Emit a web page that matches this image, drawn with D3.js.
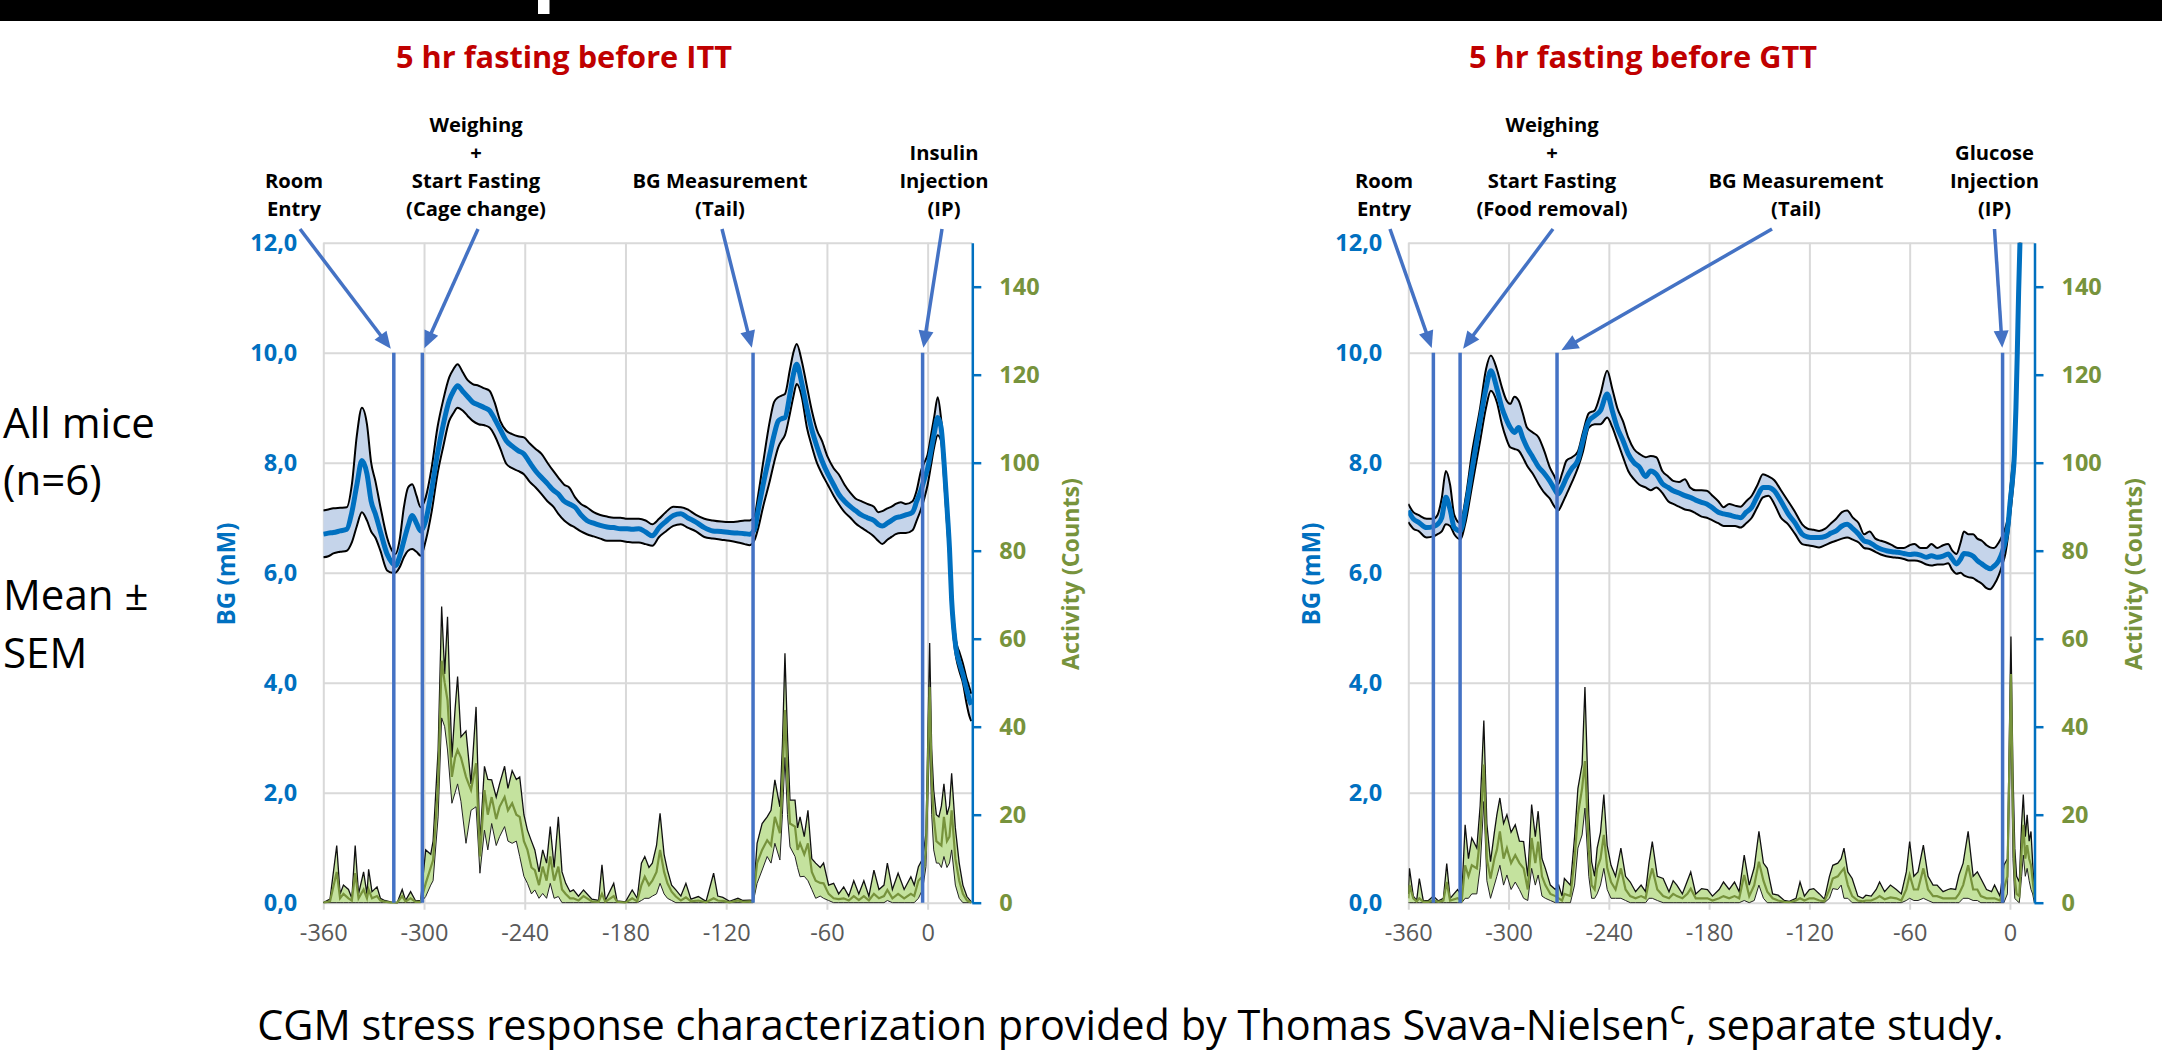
<!DOCTYPE html>
<html>
<head>
<meta charset="utf-8">
<script src="https://cdn.jsdelivr.net/npm/d3@7"></script>
<style>
html,body{margin:0;padding:0;background:#fff;}
svg{display:block;}
</style>
</head>
<body>
<svg id="c" width="2162" height="1053"></svg>
<script>
// ===================== DATA =====================
const xTicks = [-360, -300, -240, -180, -120, -60, 0];
const xTickLabels = ["-360", "-300", "-240", "-180", "-120", "-60", "0"];
const bgTicks = [0, 2, 4, 6, 8, 10, 12];
const bgTickLabels = ["0,0", "2,0", "4,0", "6,0", "8,0", "10,0", "12,0"];
const actTicks = [0, 20, 40, 60, 80, 100, 120, 140];
const actTickLabels = ["0", "20", "40", "60", "80", "100", "120", "140"];

const titles = ["5 hr fasting before ITT", "5 hr fasting before GTT"];
const sideText = ["All mice", "(n=6)", "Mean \u00B1", "SEM"];
const captionMain = "CGM stress response characterization provided by Thomas Svava-Nielsen";
const captionSup = "c";
const captionEnd = ", separate study.";

// ---- ITT: event markers ----
const ittEventTimes = [-318, -301, -104, -3];
const ittEventLabels = [["Room", "Entry"], ["Weighing", "+", "Start Fasting", "(Cage change)"], ["BG Measurement", "(Tail)"], ["Insulin", "Injection", "(IP)"]];
// ---- GTT: event markers ----
const gttEventTimes = [-345, -329, -271, -4.4];
const gttEventLabels = [["Room", "Entry"], ["Weighing", "+", "Start Fasting", "(Food removal)"], ["BG Measurement", "(Tail)"], ["Glucose", "Injection", "(IP)"]];

// ---- ITT: blood glucose (mM), mean and SEM band ----
const ittBgTime = [-360,-357,-354,-350,-346,-343,-340,-337,-334,-331.5,-329,-326,-322,-319,-317,-314.5,-312,-309.5,-307,-304.5,-302,-299,-295.5,-292,-288.5,-285,-282.5,-280,-277,-274,-271,-267.5,-264,-261,-258,-254.5,-251,-247.5,-244,-240.5,-237,-233.5,-230,-226.5,-223,-220,-216.5,-213.5,-210,-206.5,-203,-199,-195,-191,-187,-183,-179,-176,-172,-168,-164,-160,-156,-151.5,-147,-143,-138,-133,-128,-123,-118,-113,-109,-106,-103,-101,-98,-94,-91.5,-89,-87,-85,-82,-80,-78,-75,-72,-69,-66,-63,-59.5,-56,-53,-49.5,-46,-43,-39.5,-36,-32,-29.5,-27,-24,-21.5,-19,-16,-13,-9,-6.5,-4,-2,0,2,4,6,8,10,11.5,13,14.3,15.5,17,19,21,23,25,26];
const ittBgMean = [6.70,6.72,6.73,6.76,6.79,7.1,7.6,8.04,7.8,7.3,7.07,6.75,6.34,6.18,6.13,6.3,6.58,6.85,7.04,6.9,6.76,6.95,7.5,8.16,8.7,9.13,9.3,9.4,9.3,9.2,9.1,9.05,9.0,8.95,8.8,8.6,8.4,8.3,8.22,8.16,8.0,7.85,7.73,7.62,7.5,7.43,7.3,7.25,7.19,7.05,6.95,6.9,6.86,6.83,6.82,6.8,6.8,6.79,6.8,6.74,6.67,6.82,6.93,7.04,7.07,7.0,6.92,6.82,6.76,6.75,6.73,6.72,6.71,6.70,6.8,7.13,7.6,8.16,8.5,8.76,8.8,8.82,9.25,9.6,9.79,9.45,9.0,8.6,8.3,8.04,7.8,7.6,7.43,7.3,7.2,7.13,7.05,7.0,6.95,6.88,6.85,6.9,6.95,7.0,7.02,7.05,7.1,7.3,7.5,7.7,7.9,8.22,8.55,8.82,8.64,7.9,7.2,6.45,5.5,5.0,4.6,4.35,4.15,3.9,3.68,3.6];
const ittBgLow = [6.28,6.3,6.35,6.38,6.4,6.55,6.85,7.1,6.95,6.75,6.64,6.4,6.04,6.0,6.0,6.1,6.28,6.4,6.43,6.38,6.31,6.58,7.1,7.79,8.3,8.76,8.9,9.0,8.95,8.85,8.76,8.7,8.68,8.64,8.5,8.25,7.98,7.9,7.85,7.79,7.65,7.55,7.43,7.3,7.2,7.07,6.95,6.88,6.82,6.75,6.70,6.66,6.62,6.58,6.58,6.58,6.56,6.55,6.55,6.52,6.49,6.65,6.75,6.85,6.88,6.82,6.75,6.65,6.62,6.6,6.58,6.55,6.52,6.5,6.6,6.8,7.2,7.67,8.0,8.28,8.4,8.5,8.9,9.2,9.43,9.2,8.65,8.3,8.0,7.8,7.6,7.4,7.25,7.1,7.0,6.9,6.82,6.75,6.66,6.58,6.52,6.6,6.65,6.7,6.72,6.72,6.77,6.95,7.15,7.35,7.6,7.95,8.3,8.5,8.4,7.6,6.9,6.2,5.3,4.8,4.45,4.2,4.0,3.65,3.38,3.3];
const ittBgHigh = [7.13,7.15,7.17,7.18,7.19,7.6,8.5,9.0,8.7,8.0,7.67,7.2,6.64,6.4,6.34,6.6,7.19,7.55,7.61,7.4,7.19,7.37,7.9,8.64,9.15,9.55,9.7,9.79,9.65,9.5,9.43,9.4,9.35,9.31,9.1,8.75,8.58,8.52,8.48,8.46,8.35,8.25,8.16,8.0,7.85,7.73,7.6,7.55,7.37,7.25,7.19,7.1,7.05,7.02,7.0,7.0,6.98,6.98,6.98,6.95,6.88,6.98,7.1,7.2,7.19,7.15,7.05,6.98,6.95,6.93,6.92,6.93,6.95,6.95,7.05,7.4,8.0,8.76,9.1,9.19,9.22,9.25,9.7,10.0,10.16,9.85,9.4,8.95,8.6,8.4,8.1,7.9,7.79,7.6,7.45,7.35,7.3,7.25,7.2,7.1,7.12,7.17,7.2,7.25,7.28,7.25,7.3,7.5,7.85,8.0,8.15,8.5,8.85,9.19,8.8,8.1,7.4,6.6,5.7,5.15,4.75,4.55,4.35,4.1,3.9,3.8];

// ---- ITT: activity (counts), mean and SEM band ----
const ittActTime = [-360,-356,-352,-350,-348,-345,-343,-341,-339,-336,-334,-333,-331,-328,-326,-324,-320,-316,-313,-311,-308,-305,-302,-299,-296,-294.6,-291.6,-289.5,-287.7,-286,-283.4,-281.5,-280,-278,-275,-272,-269,-266.7,-264,-262,-259.7,-257,-255,-252,-250,-247.5,-245,-243,-240.5,-238.4,-236,-234,-231.5,-229.3,-227,-224.8,-222.5,-220,-217.8,-215.6,-213,-211,-208,-205,-200,-196,-194,-192,-187,-185,-180,-176,-173,-170.5,-168.5,-166,-164,-161.5,-159.4,-157,-155,-152.5,-150,-147,-144,-141,-136.6,-132,-127.5,-125,-122,-118,-113,-110,-106,-104,-101.6,-98.6,-95.6,-93.3,-91,-88,-86.5,-85,-83.5,-82,-79,-77.5,-76,-73.5,-71.3,-69,-66.7,-64,-62,-59,-56,-53,-50,-47,-44,-41,-38,-35,-32,-29,-26,-24,-21,-17.6,-14,-10,-8,-5.5,-3,-1,1.2,2.4,3.6,5.2,6.7,8.2,9.7,11.5,13,14.3,16.5,18.8,21,23.4,26];
const ittActLow = [0,0,0,0,0,0,0,0,0,0,0,0,0,0,0,0,0,0,0,0,0,0,0,1.4,4,5,19.5,42,40,34.7,22.6,25,27,23,13.5,21,21.8,6.7,16.5,12,18,13,15,17.3,14,13.5,14,10.5,6,4.4,2,2.9,1,2.1,1,4.4,1,1.4,0,0,0,0,0,0,0,0,0,0,0,0,0,0,0,0.5,1,1,1.5,2,4.4,2,1,0.5,0,0,0,0,0,0,0,0,0,0,0,0,0,0,4.4,7.4,10.5,9,13.5,9.7,20,33,20,12.7,10.5,8,5.9,6,5,3,1,1.5,1,0.5,0,0,0,0,0,0,0,0,0,0,0,0.5,0,0,0,0,0,1,3,8.2,37.7,20,12,9,9,8,10.5,8,9,12,4,1,0,0,0];
const ittActMean = [0,0.3,7,1,2,1,0.5,6.7,1,3,1,3,1,1.5,0.5,0.3,0,0,1.5,0.3,1,0.2,0.2,4.4,8,9.7,27,55,50,46,28.6,33,34.7,33,28.6,25.6,31.7,10.5,25.6,20,24,19,21.8,24,21,22.6,20,19.5,14,12,8,7.4,4,8.2,5,10.5,5,8.2,3,2,1,1,0.5,1.5,0.3,0.2,2,0.2,1.5,0.2,0,1,0.3,4,5.9,4,5,7,12,7,4.4,2.5,1.4,0.5,1.2,0.3,0.5,0.1,1,0.5,0.4,0.1,0.5,0.2,0.3,0.2,9,12,14.2,13,19.5,15.8,28,43.8,28,18,17.3,12,13.5,11,13.5,7,5,4.5,4.4,2,1,0.8,1,0.5,1.5,0.6,1.5,0.5,2,1,1.5,2.9,1,2,1,2,1.5,5,6,12,49,28,19.5,14,13.5,13,19.5,14,15,21,10,5,2,0.5,0];
const ittActHigh = [0,0.8,13,2,4,3,1,13,2,7,2,7.6,2.5,3.6,1,0.6,0.2,0,3,0.5,2.5,0.4,0.5,12,11,14,34.7,67.3,52,65,33,44,51.4,37.7,39,27,44.5,13.5,31,28,27.9,24,27,31,26,30,28,28.6,20,16.5,14,12,7,12,9,17.3,8,19.5,7,4.4,2.5,2.9,1.5,2.9,0.8,0.5,8.6,0.5,4.4,0.4,0.2,2.9,1,9,10.5,8,9,13,20.3,11,7.4,4,2.9,1.5,4.4,0.8,1.4,0.3,6.7,1.5,1.2,0.3,1,0.5,0.6,0.5,13.5,18,19.5,21,27.9,21.8,36,56.7,38,23.3,23.3,17,19.5,15,21,10,9,8,9,4,4.4,2,3.6,1.5,5,2,5,1.5,7.4,3,4,9,3,6.7,3,5.9,4,8.2,10,15.8,59,35,25.6,20,19.5,22,27,20,22,29.4,17,9,4,1.4,0.2];

// ---- GTT: blood glucose (mM), mean and SEM band ----
const gttBgTime = [-360,-357,-354,-349,-345,-342.5,-340,-337.5,-335,-332.5,-329,-325.5,-322,-317,-313.5,-310.6,-307,-304,-301.5,-299,-296.5,-294,-291.5,-289,-285.5,-282,-278.5,-275.4,-272.5,-270.3,-268,-265.3,-262,-258.6,-255.5,-252,-248.5,-245,-241,-238,-235,-231.5,-228.4,-225,-221.7,-218,-215,-211.6,-208,-204.5,-201.5,-198,-194.5,-191.4,-188,-184.5,-181.4,-178,-174.5,-171.3,-168,-164.5,-161.2,-157.8,-154.5,-151,-147.8,-144.5,-141,-137,-132.7,-128.5,-124.3,-121,-117.5,-114.2,-110.5,-107,-104,-100.5,-97.4,-94,-90.5,-87.3,-84,-80.5,-77.3,-74,-70.5,-67.2,-63.5,-60,-57.1,-53.5,-50,-47,-43.5,-40,-37,-34.5,-32,-29.5,-27.5,-25,-22,-19.5,-16.8,-14,-11.8,-9.5,-6.7,-4.5,-2.7,-1,0,1.4,2.7,3.6,4.4,5.2,6,8,11,15];
const gttBgMean = [7.13,6.98,6.92,6.82,6.84,6.88,7.0,7.37,7.15,6.82,6.76,7.2,7.85,8.76,9.35,9.67,9.35,9.0,8.8,8.64,8.55,8.64,8.45,8.28,8.1,7.92,7.8,7.67,7.52,7.43,7.55,7.73,7.9,8.04,8.4,8.76,8.85,8.95,9.25,8.95,8.64,8.4,8.16,8.0,7.92,7.75,7.85,7.79,7.62,7.55,7.49,7.45,7.4,7.37,7.32,7.28,7.25,7.18,7.1,7.07,7.05,7.02,7.0,7.1,7.19,7.4,7.55,7.55,7.49,7.3,7.07,6.9,6.70,6.65,6.64,6.64,6.66,6.72,6.76,6.85,6.88,6.8,6.7,6.58,6.55,6.48,6.43,6.4,6.38,6.37,6.35,6.33,6.34,6.32,6.28,6.31,6.28,6.3,6.34,6.25,6.16,6.25,6.35,6.34,6.3,6.22,6.16,6.1,6.07,6.12,6.22,6.38,6.58,6.9,7.25,7.65,8.16,9.0,10.0,11.1,12.0,13.5,14.8,15.8];
const gttBgLow = [6.92,6.8,6.76,6.64,6.66,6.7,6.75,6.88,6.85,6.7,6.61,6.95,7.55,8.4,9.0,9.31,9.1,8.7,8.45,8.28,8.25,8.22,8.1,7.95,7.8,7.61,7.45,7.35,7.2,7.13,7.25,7.43,7.65,7.9,8.2,8.64,8.7,8.7,8.82,8.65,8.4,8.1,7.85,7.7,7.6,7.55,7.5,7.55,7.45,7.3,7.25,7.2,7.15,7.13,7.08,7.02,7.0,6.95,6.9,6.85,6.85,6.85,6.82,6.9,7.0,7.2,7.37,7.4,7.25,7.0,6.88,6.7,6.52,6.5,6.48,6.46,6.5,6.55,6.58,6.62,6.64,6.6,6.55,6.45,6.43,6.38,6.33,6.3,6.28,6.27,6.25,6.22,6.22,6.2,6.15,6.13,6.15,6.15,6.17,6.05,5.98,6.0,5.95,5.92,5.9,5.85,5.8,5.72,5.7,5.78,5.95,6.15,6.35,6.7,7.0,7.4,7.9,8.7,9.7,10.8,11.7,13.2,14.5,15.5];
const gttBgHigh = [7.25,7.1,7.05,6.98,6.98,7.05,7.35,7.85,7.6,7.05,6.9,7.4,8.16,9.0,9.7,9.95,9.7,9.37,9.15,9.07,9.2,9.13,8.9,8.64,8.55,8.46,8.2,7.92,7.75,7.61,7.8,8.04,8.1,8.2,8.55,8.9,8.95,9.25,9.67,9.35,9.0,8.75,8.46,8.25,8.16,8.1,8.12,8.1,7.85,7.75,7.67,7.65,7.7,7.55,7.5,7.5,7.49,7.4,7.3,7.19,7.25,7.22,7.2,7.3,7.4,7.6,7.79,7.75,7.68,7.5,7.3,7.1,6.88,6.8,6.78,6.76,6.8,6.9,6.98,7.1,7.13,7.0,6.9,6.7,6.75,6.62,6.58,6.55,6.5,6.45,6.45,6.5,6.52,6.45,6.45,6.52,6.45,6.5,6.52,6.4,6.34,6.55,6.75,6.7,6.7,6.62,6.58,6.5,6.46,6.45,6.55,6.68,6.82,7.05,7.45,7.9,8.4,9.3,10.3,11.4,12.3,13.8,15.1,16.1];

// ---- GTT: activity (counts), mean and SEM band ----
const gttActTime = [-360,-359.3,-357,-355,-353.4,-351,-348,-345,-342,-339,-337,-335,-330.5,-328,-326,-324,-322,-319,-317,-314.8,-313,-310.8,-308.5,-307,-305.2,-303,-301,-298.5,-296,-293.5,-291,-288.5,-286.2,-284,-282.3,-280,-278,-275,-272,-270,-268,-266.6,-263,-260.5,-258.5,-256,-254.3,-252,-250.3,-248.5,-247,-245,-243,-241,-238.7,-236,-232.8,-230,-227.2,-224,-220.7,-218,-216,-214,-211,-207.5,-204,-201.5,-199.3,-196,-193,-191,-188,-184.5,-181,-178,-174,-171.4,-168,-164.8,-162,-159,-156,-153,-150.2,-147.5,-145.2,-142,-138.7,-135,-132,-128,-125.6,-123,-120,-117.4,-114,-111,-108,-106,-103,-101,-99.3,-97,-94.4,-91,-88,-86.2,-83,-80,-78,-75,-71.5,-68,-65,-62,-60,-57.5,-55,-51.8,-49,-46,-43.6,-40,-37,-35.4,-32.5,-30.5,-28,-25,-22,-19.5,-17.4,-14,-11,-9.2,-6,-3.6,-1.5,0.6,1.8,2.9,4,5.6,7,8,9.2,10.3,11.5,12.6,13.6,14.6,15];
const gttActLow = [0,0,0,0,0,0,0,0,0,0,0,0,0,0,1,1,2,2,8,23,5,1,4,6,8.5,4,6.3,3,4.7,3,1,0.5,7.8,4,6.3,1.5,1,0.5,0,0,0,0,0,4,12.4,15.4,21.5,6,1,1,2,4,7.8,3,1,1,1,0.5,0,0,0,0,1,1,0.5,0,0,0,0,0,0,0,0,0,0,0,0,0,0,0,0,0.5,0,0.5,4,1,0,0,0,0,0,0,0,0,0,0,0,0,1,3.2,3,4,1,1,0,0,0,0,0,0,0,0,0,0,0,0.5,1,0.5,0.5,1,0.5,0,0,0,0,0,0,0,1,1,0.5,0.5,0,0,0,0,0,0,2,41.4,10,1,0.5,0,6,10.8,6,7.8,5,3,2,0,0];
const gttActMean = [1,4,1,0.3,1,0.2,0.2,0.5,0.2,0.5,4.7,0.5,1,0.5,8.5,6,8.5,7.8,15,31.4,10,5.5,10,12,16.2,10,12.4,9,10.8,9,7.8,3,14.7,9,13.9,6,4,2,1.5,1,0.5,2,1.5,10,20,26,32.2,12,4,3,7.8,10,15.4,8,4.7,3,7.8,3,1.5,1,1.5,1,5,7.8,3,1.5,1,2,1.5,1,2,3.2,1,1,1,0.5,1,1.5,1,1.5,1,6.3,1.5,4,9.3,5,2.5,1,0.5,0.2,0.1,0.5,1,0.5,1,1,0.5,0.3,3,5.5,6,7,7.8,4,1.5,0.5,0.3,0.5,0.5,1,1.5,0.8,1.2,1,0.5,3,6.3,3,3,7.8,3,1.5,1.5,1,1,1,1,2,4,8.5,3,3,1.5,1,1,1,0.5,3.2,6,52,20,5.5,2,1.5,12,17.7,10,13.1,10,8.5,5,1.7,1];
const gttActHigh = [2,7.8,1.5,0.5,5.5,0.4,0.5,1.5,0.4,1,8.9,1,3,1.5,17.7,10,14.7,12.4,22,41.4,18,9.3,16,20,23.8,18,20,16,17.7,14,13.9,6,22.3,15,20.8,10,7.8,4,3,4,1.5,5.5,4,15,26,31.4,49,20,9.3,6,12.4,16,24.6,13,8.5,6,12.4,6,4.7,2.5,4,2.5,9,13.9,6,5.5,2.5,5,4,2,5,7,2,3.2,3,1.5,3,4.7,3,4.7,2.5,10.8,4,8,16.2,9,7.8,2,1.7,0.5,0.3,1,4.7,1.5,3,3.2,2,0.8,6,8.5,9,10,12.4,7,5.5,1.5,1,1.7,1.5,3,4.7,2.5,4,3,2,7,13.9,6,7,13.1,6,4,4,2.5,3,3.2,3,6.3,9,16.2,6,7,5.5,3,2.5,4,1.5,8.5,10,60.5,30,12.4,6,4.7,18,24.6,15,20,14,16.2,9,3,2];

// ===================== LAYOUT / STYLE =====================
const FONT = "'Open Sans', 'Noto Sans', sans-serif";
const C = {
  bgBlue: "#0070C0", actGreen: "#77933C", event: "#4472C4", grid: "#D9D9D9",
  bgBand: "#C5D4EA", actBand: "#C4E29E", title: "#C00000", tick: "#595959"
};
const PLOT_TOP = 242.7, PLOT_BOTTOM = 902.7;
const AXIS_TITLE_Y = 574;
const panels = [
  { key: "itt", x0: 323.3, x1: 972.3, xMax: 26.6, titleX: 564,
    labelX: [294, 476, 720, 944], arrowFromX: [300, 478, 722, 942],
    events: ittEventTimes, labels: ittEventLabels,
    bg: { t: ittBgTime, m: ittBgMean, lo: ittBgLow, hi: ittBgHigh },
    act: { t: ittActTime, m: ittActMean, lo: ittActLow, hi: ittActHigh } },
  { key: "gtt", x0: 1408.3, x1: 2034.5, xMax: 14.7, titleX: 1643,
    labelX: [1384, 1552, 1796, 1994.5], arrowFromX: [1390, 1553, 1772, 1994.5],
    events: gttEventTimes, labels: gttEventLabels,
    bg: { t: gttBgTime, m: gttBgMean, lo: gttBgLow, hi: gttBgHigh },
    act: { t: gttActTime, m: gttActMean, lo: gttActLow, hi: gttActHigh } }
];

const svg = d3.select("#c");

function fitSize(text, weight, targetWidth) {
  const base = 20;
  const t = svg.append("text").attr("font-family", FONT).attr("font-weight", weight)
    .attr("font-size", base).text(text);
  const w = t.node().getComputedTextLength();
  t.remove();
  return base * targetWidth / w;
}

// top black band
svg.append("rect").attr("x", 0).attr("y", 0).attr("width", 2162).attr("height", 21).attr("fill", "#000");
svg.append("rect").attr("x", 538).attr("y", 0).attr("width", 11.5).attr("height", 14).attr("fill", "#fff");

const titleSize = fitSize(titles[0], 700, 336);
const annSize = fitSize("BG Measurement", 700, 175);
const bgTitleSize = fitSize("BG (mM)", 700, 103);
const actTitleSize = fitSize("Activity (Counts)", 700, 192);

function rows(s) {
  return s.t.map((t, i) => ({ t, m: s.m[i], lo: s.lo[i], hi: s.hi[i] }));
}

panels.forEach((p, pi) => {
  const x = d3.scaleLinear().domain([-360, p.xMax]).range([p.x0, p.x1]);
  const y = d3.scaleLinear().domain([0, 12]).range([PLOT_BOTTOM, PLOT_TOP]);
  const ya = d3.scaleLinear().domain([0, 150]).range([PLOT_BOTTOM, PLOT_TOP]);
  const g = svg.append("g");

  // title
  g.append("text").attr("x", p.titleX).attr("y", 68).attr("text-anchor", "middle")
    .attr("font-family", FONT).attr("font-weight", 700).attr("font-size", titleSize)
    .attr("fill", C.title).text(titles[pi]);

  // horizontal gridlines + BG labels (left axis)
  const yAxis = d3.axisLeft(y).tickValues(bgTicks).tickFormat((d, i) => bgTickLabels[i])
    .tickSize(-(p.x1 - p.x0)).tickPadding(26);
  const ga = g.append("g").attr("transform", `translate(${p.x0},0)`).call(yAxis);
  ga.select(".domain").remove();
  ga.selectAll(".tick line").attr("stroke", C.grid).attr("stroke-width", 2);
  ga.selectAll(".tick text").attr("font-family", FONT).attr("font-weight", 700)
    .attr("font-size", 23.5).attr("fill", C.bgBlue);

  // vertical gridlines + x labels
  const xAxis = d3.axisBottom(x).tickValues(xTicks).tickFormat((d, i) => xTickLabels[i])
    .tickSize(-(PLOT_BOTTOM + 7 - PLOT_TOP)).tickSizeOuter(0).tickPadding(15);
  const gx = g.append("g").attr("transform", `translate(0,${PLOT_BOTTOM + 7})`).call(xAxis);
  gx.select(".domain").remove();
  gx.selectAll(".tick line").attr("stroke", C.grid).attr("stroke-width", 2);
  gx.selectAll(".tick text").attr("font-family", FONT).attr("font-weight", 400)
    .attr("font-size", 23.5).attr("fill", C.tick);

  // clip
  const clipId = "clip-" + p.key;
  svg.append("defs").append("clipPath").attr("id", clipId).append("rect")
    .attr("x", p.x0).attr("y", PLOT_TOP).attr("width", p.x1 - p.x0).attr("height", PLOT_BOTTOM - PLOT_TOP + 1);
  const data = g.append("g").attr("clip-path", `url(#${clipId})`);

  // activity
  const act = rows(p.act);
  data.append("path").datum(act).attr("fill", C.actBand)
    .attr("d", d3.area().x(d => x(d.t)).y0(d => ya(d.lo)).y1(d => ya(d.hi)));
  data.append("path").datum(act).attr("fill", "none").attr("stroke", "#222").attr("stroke-width", 1)
    .attr("d", d3.line().x(d => x(d.t)).y(d => ya(d.lo)));
  data.append("path").datum(act).attr("fill", "none").attr("stroke", "#111").attr("stroke-width", 1.3)
    .attr("d", d3.line().x(d => x(d.t)).y(d => ya(d.hi)));
  data.append("path").datum(act).attr("fill", "none").attr("stroke", C.actGreen).attr("stroke-width", 2.2)
    .attr("d", d3.line().x(d => x(d.t)).y(d => ya(d.m)));

  // blood glucose
  const bg = rows(p.bg);
  const cv = d3.curveMonotoneX;
  data.append("path").datum(bg).attr("fill", C.bgBand)
    .attr("d", d3.area().curve(cv).x(d => x(d.t)).y0(d => y(d.lo)).y1(d => y(d.hi)));
  ["lo", "hi"].forEach(k => {
    data.append("path").datum(bg).attr("fill", "none").attr("stroke", "#000").attr("stroke-width", 2)
      .attr("d", d3.line().curve(cv).x(d => x(d.t)).y(d => y(d[k])));
  });
  data.append("path").datum(bg).attr("fill", "none").attr("stroke", C.bgBlue).attr("stroke-width", 5)
    .attr("stroke-linejoin", "round")
    .attr("d", d3.line().curve(cv).x(d => x(d.t)).y(d => y(d.m)));

  // event lines
  g.selectAll(null).data(p.events).join("line")
    .attr("x1", d => x(d)).attr("x2", d => x(d)).attr("y1", y(10)).attr("y2", y(0))
    .attr("stroke", C.event).attr("stroke-width", 3.5);

  // right axis (activity)
  const aAxis = d3.axisRight(ya).tickValues(actTicks).tickFormat((d, i) => actTickLabels[i])
    .tickSize(9).tickSizeOuter(0).tickPadding(18);
  const gr = g.append("g").attr("transform", `translate(${p.x1},0)`).call(aAxis);
  gr.select(".domain").attr("stroke", C.bgBlue).attr("stroke-width", 2.5);
  gr.selectAll(".tick line").attr("stroke", C.bgBlue).attr("stroke-width", 2.5);
  gr.selectAll(".tick text").attr("font-family", FONT).attr("font-weight", 700)
    .attr("font-size", 23.5).attr("fill", C.actGreen);

  // axis titles
  g.append("text").attr("transform", `translate(${p.x0 - 97},${AXIS_TITLE_Y}) rotate(-90)`)
    .attr("text-anchor", "middle").attr("dy", "0.35em")
    .attr("font-family", FONT).attr("font-weight", 700).attr("font-size", bgTitleSize)
    .attr("fill", C.bgBlue).text("BG (mM)");
  g.append("text").attr("transform", `translate(${p.x1 + 99},${AXIS_TITLE_Y}) rotate(-90)`)
    .attr("text-anchor", "middle").attr("dy", "0.35em")
    .attr("font-family", FONT).attr("font-weight", 700).attr("font-size", actTitleSize)
    .attr("fill", C.actGreen).text("Activity (Counts)");

  // annotations: labels and arrows
  p.labels.forEach((lines, i) => {
    const n = lines.length;
    lines.forEach((ln, j) => {
      g.append("text").attr("x", p.labelX[i]).attr("y", 216 - (n - 1 - j) * 28)
        .attr("text-anchor", "middle").attr("font-family", FONT).attr("font-weight", 700)
        .attr("font-size", annSize).attr("fill", "#000").text(ln);
    });
    const sx = p.arrowFromX[i], sy = 229;
    const ex0 = x(p.events[i]), ey0 = y(10);
    const dx = ex0 - sx, dy = ey0 - sy, L = Math.hypot(dx, dy);
    const ux = dx / L, uy = dy / L;
    const tipX = ex0 - ux * 5, tipY = ey0 - uy * 5;
    const headL = 17, headW = 7.5;
    const bx = tipX - ux * headL, by = tipY - uy * headL;
    g.append("line").attr("x1", sx).attr("y1", sy).attr("x2", bx + ux * 2).attr("y2", by + uy * 2)
      .attr("stroke", C.event).attr("stroke-width", 3.5);
    g.append("path").attr("fill", C.event)
      .attr("d", `M${tipX},${tipY}L${bx - uy * headW},${by + ux * headW}L${bx + uy * headW},${by - ux * headW}Z`);
  });
});

// side text
const sideSize = fitSize(sideText[0], 400, 152);
[438, 495, 610, 668].forEach((yy, i) => {
  svg.append("text").attr("x", 3).attr("y", yy).attr("font-family", FONT).attr("font-weight", 400)
    .attr("font-size", sideSize).attr("fill", "#000").text(sideText[i]);
});

// caption
const capSize = fitSize(captionMain + "c" + captionEnd, 400, 1751);
const cap = svg.append("text").attr("x", 1130.5).attr("y", 1040).attr("text-anchor", "middle")
  .attr("font-family", FONT).attr("font-weight", 400).attr("font-size", capSize).attr("fill", "#000");
cap.append("tspan").text(captionMain);
cap.append("tspan").attr("dy", -capSize * 0.38).attr("font-size", capSize * 0.8).text(captionSup);
cap.append("tspan").attr("dy", capSize * 0.38).text(captionEnd);
</script>
</body>
</html>
